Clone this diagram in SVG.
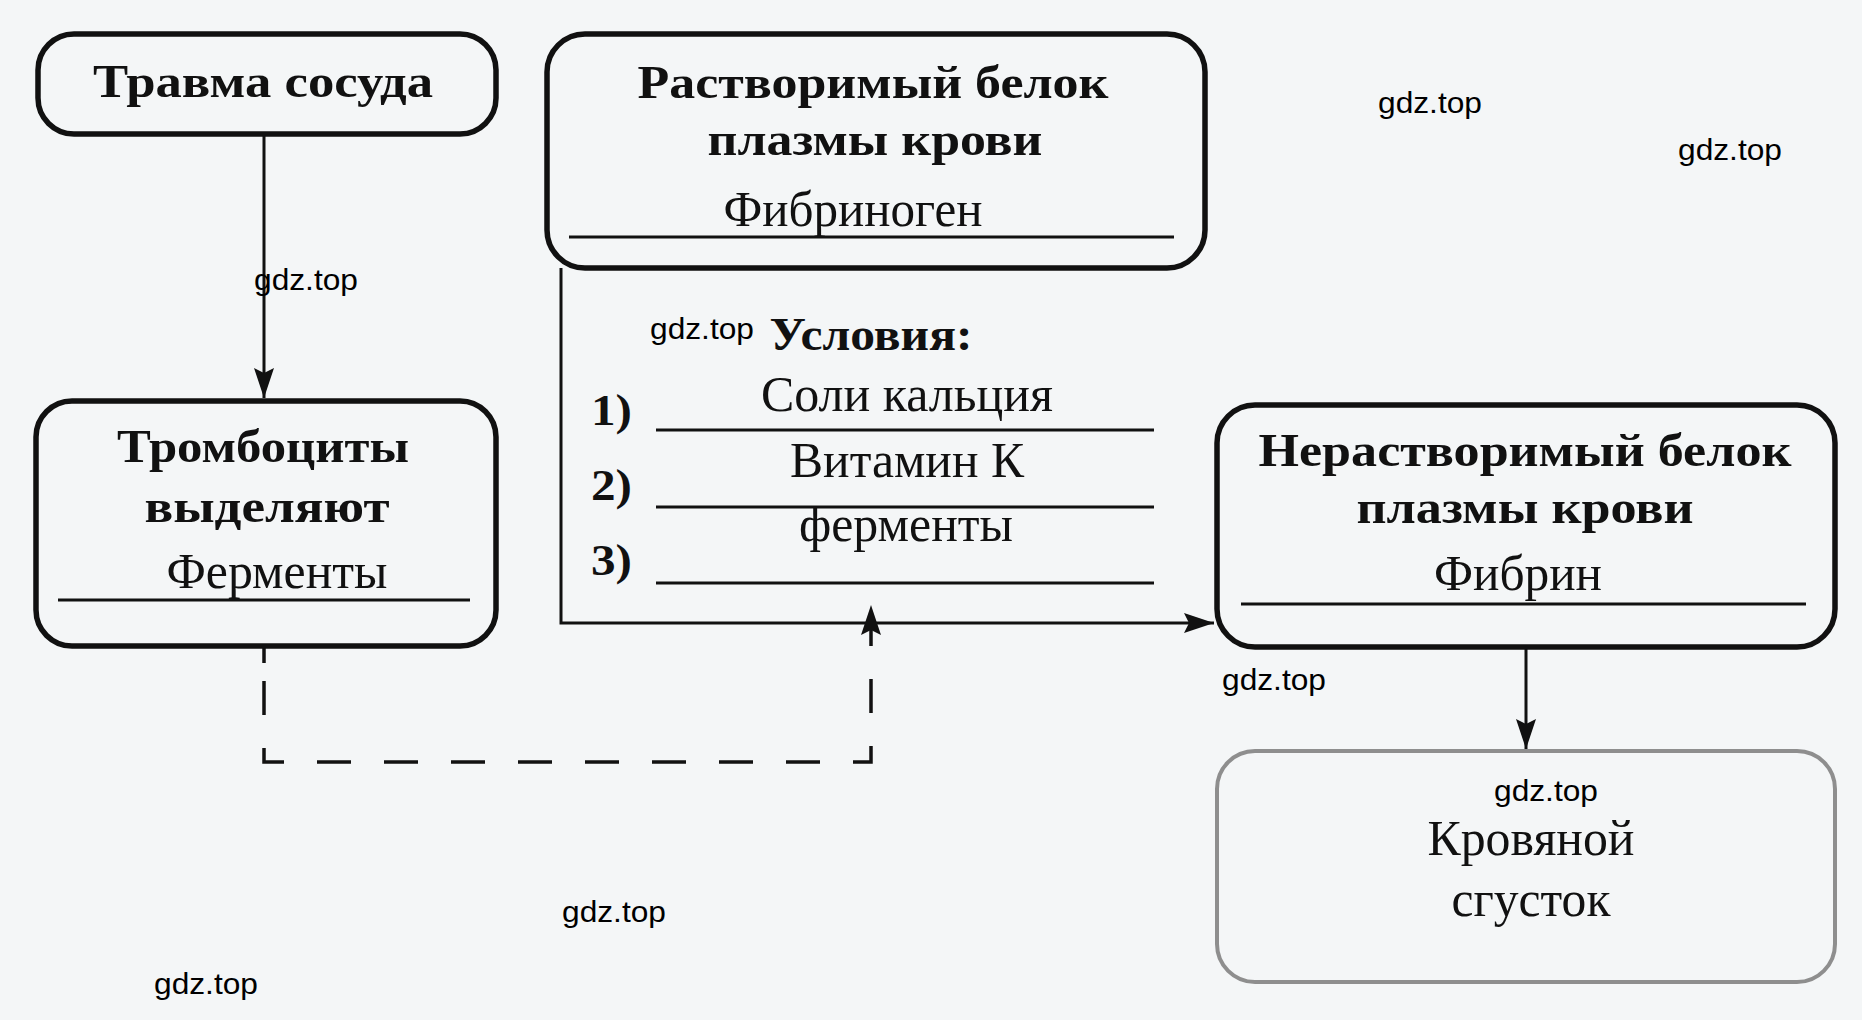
<svg xmlns="http://www.w3.org/2000/svg" width="1862" height="1020" viewBox="0 0 1862 1020">
<style>
.box{fill:none;stroke:#111;stroke-width:5.5}
.box5{fill:none;stroke:#8e8e8e;stroke-width:4}
.h{font-family:"Liberation Serif","Times New Roman",serif;font-weight:bold;font-size:46px;fill:#111;text-anchor:middle}
.n{font-family:"Liberation Serif","Times New Roman",serif;font-weight:bold;font-size:44px;fill:#111}
.a{font-family:"Liberation Serif","Times New Roman",serif;font-size:50px;fill:#111;text-anchor:middle}
.u{stroke:#111;stroke-width:3}
.c{fill:none;stroke:#111;stroke-width:3}
.d{fill:none;stroke:#111;stroke-width:3.5;stroke-dasharray:34 33;stroke-dashoffset:33}
.w{font-family:"Liberation Sans",Arial,sans-serif;font-size:29px;fill:#000}
</style>
<defs>
<marker id="arrow" markerUnits="userSpaceOnUse" markerWidth="30" markerHeight="20" viewBox="0 0 30 20" refX="30" refY="10" orient="auto">
<path d="M0,0 L30,10 L0,20 L5,10 z" fill="#111"/>
</marker>
</defs>
<rect width="1862" height="1020" fill="#f4f6f7"/>

<g id="connectors">
<path class="c" d="M264,134 V398" marker-end="url(#arrow)"/>
<path class="c" d="M561,268 V623 H1214" marker-end="url(#arrow)"/>
<path class="c" d="M1526,647 V749" marker-end="url(#arrow)"/>
<path class="d" d="M264,647 V762 H871 V605" marker-end="url(#arrow)"/>
<path class="c" style="stroke-width:3.5" d="M264,648 V663"/>
</g>

<g id="node-trauma">
<rect class="box" x="38" y="34" width="458" height="100" rx="36"/>
<text class="h" x="263" y="97" textLength="340" lengthAdjust="spacingAndGlyphs">Травма сосуда</text>
</g>

<g id="node-platelets">
<rect class="box" x="36" y="401" width="460" height="245" rx="36"/>
<text class="h" x="263" y="462" textLength="292" lengthAdjust="spacingAndGlyphs">Тромбоциты</text>
<text class="h" x="267" y="522" textLength="245" lengthAdjust="spacingAndGlyphs">выделяют</text>
<text class="a" x="277" y="588" textLength="221" lengthAdjust="spacingAndGlyphs">Ферменты</text>
<line class="u" x1="58" y1="600" x2="470" y2="600"/>
</g>

<g id="node-soluble">
<rect class="box" x="547" y="34" width="658" height="234" rx="38"/>
<text class="h" x="873" y="98" textLength="471" lengthAdjust="spacingAndGlyphs">Растворимый белок</text>
<text class="h" x="875" y="155" textLength="335" lengthAdjust="spacingAndGlyphs">плазмы крови</text>
<text class="a" x="853" y="226" textLength="259" lengthAdjust="spacingAndGlyphs">Фибриноген</text>
<line class="u" x1="569" y1="237" x2="1174" y2="237"/>
</g>

<g id="conditions">
<text class="h" x="871" y="350" textLength="203" lengthAdjust="spacingAndGlyphs">Условия:</text>
<text class="n" x="591" y="425" textLength="41" lengthAdjust="spacingAndGlyphs">1)</text>
<text class="a" x="907" y="411" textLength="292" lengthAdjust="spacingAndGlyphs">Соли кальция</text>
<line class="u" x1="656" y1="430" x2="1154" y2="430"/>
<text class="n" x="591" y="500" textLength="41" lengthAdjust="spacingAndGlyphs">2)</text>
<text class="a" x="907" y="477" textLength="234" lengthAdjust="spacingAndGlyphs">Витамин К</text>
<line class="u" x1="656" y1="507" x2="1154" y2="507"/>
<text class="n" x="591" y="575" textLength="41" lengthAdjust="spacingAndGlyphs">3)</text>
<text class="a" x="906" y="541" textLength="214" lengthAdjust="spacingAndGlyphs">ферменты</text>
<line class="u" x1="656" y1="583" x2="1154" y2="583"/>
</g>

<g id="node-insoluble">
<rect class="box" x="1217" y="405" width="618" height="242" rx="38"/>
<text class="h" x="1525" y="466" textLength="533" lengthAdjust="spacingAndGlyphs">Нерастворимый белок</text>
<text class="h" x="1525" y="523" textLength="337" lengthAdjust="spacingAndGlyphs">плазмы крови</text>
<text class="a" x="1518" y="590" textLength="168" lengthAdjust="spacingAndGlyphs">Фибрин</text>
<line class="u" x1="1241" y1="604" x2="1806" y2="604"/>
</g>

<g id="node-clot">
<rect class="box5" x="1217" y="751" width="618" height="231" rx="38"/>
<text class="a" x="1531" y="855" textLength="207" lengthAdjust="spacingAndGlyphs">Кровяной</text>
<text class="a" x="1531" y="916" textLength="159" lengthAdjust="spacingAndGlyphs">сгусток</text>
</g>

<g id="watermarks">
<text class="w" x="1378" y="113" textLength="104" lengthAdjust="spacingAndGlyphs">gdz.top</text>
<text class="w" x="1678" y="160" textLength="104" lengthAdjust="spacingAndGlyphs">gdz.top</text>
<text class="w" x="254" y="290" textLength="104" lengthAdjust="spacingAndGlyphs">gdz.top</text>
<text class="w" x="650" y="339" textLength="104" lengthAdjust="spacingAndGlyphs">gdz.top</text>
<text class="w" x="1222" y="690" textLength="104" lengthAdjust="spacingAndGlyphs">gdz.top</text>
<text class="w" x="1494" y="801" textLength="104" lengthAdjust="spacingAndGlyphs">gdz.top</text>
<text class="w" x="562" y="922" textLength="104" lengthAdjust="spacingAndGlyphs">gdz.top</text>
<text class="w" x="154" y="994" textLength="104" lengthAdjust="spacingAndGlyphs">gdz.top</text>
</g>
</svg>
